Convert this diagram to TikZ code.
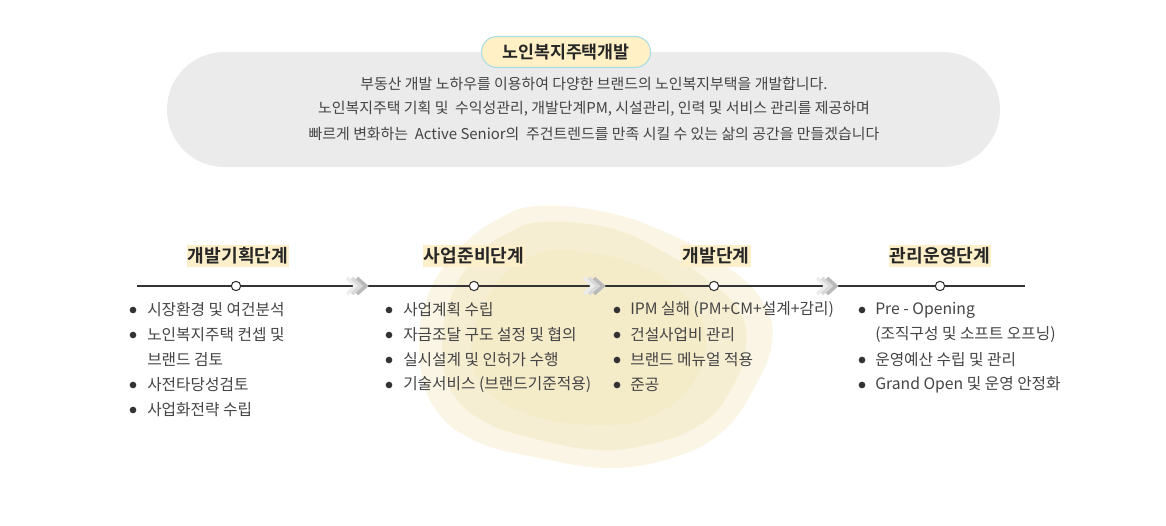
\documentclass[tikz,border=0pt]{standalone}
\usepackage{fontspec}
\setmainfont{Noto Sans CJK KR}
\newfontfamily\krbold{Noto Sans CJK KR Bold}
\definecolor{boxgray}{HTML}{EBEBEB}
\definecolor{pillfill}{HTML}{FFF0C6}
\definecolor{pillline}{HTML}{A9DDE6}
\definecolor{markfill}{HTML}{FDEFC9}
\definecolor{stain}{HTML}{F0E2B2}
\definecolor{txt}{HTML}{444444}
\definecolor{linec}{HTML}{333333}
\tikzset{
  intro/.style={font=\fontsize{11.2}{13}\selectfont, text=txt},
  stage/.style={font=\krbold\fontsize{13.6}{16}\selectfont, text=black!85, fill=markfill,
    inner xsep=1pt, inner ysep=2pt},
  item/.style={font=\fontsize{11.8}{14}\selectfont, text=txt, anchor=west, inner sep=0pt},
  dot/.style={circle, fill=linec, inner sep=0pt, minimum size=5pt},
  knot/.style={circle, draw=linec, fill=white, line width=0.8pt, inner sep=0pt, minimum size=7pt},
}
\begin{document}
\begin{tikzpicture}[x=0.75pt, y=-0.75pt]
\useasboundingbox (0,0) rectangle (1166,525);
% stain behind the middle stages
\fill[stain, opacity=0.35] plot[smooth cycle, tension=0.7] coordinates {
  (540,206) (605,212) (665,232) (720,262) (762,300) (772,342) (752,392) (722,432)
  (675,457) (610,468) (540,458) (478,442) (436,410) (420,360) (426,300) (458,250) (500,218)};
\fill[stain, opacity=0.35] plot[smooth cycle, tension=0.7] coordinates {
  (545,222) (610,228) (660,250) (705,278) (740,312) (745,352) (728,395) (700,425)
  (655,443) (600,450) (540,440) (485,422) (452,392) (442,350) (450,300) (475,258) (510,232)};
\fill[stain, opacity=0.3] plot[smooth cycle, tension=0.7] coordinates {
  (560,250) (630,262) (680,290) (705,330) (695,380) (655,415) (600,425)
  (530,415) (482,385) (472,340) (492,290) (522,262)};
% intro box
\fill[boxgray, rounded corners=43pt] (167,52) rectangle (1000,167);
\node[draw=pillline, fill=pillfill, rounded corners=11.5pt, line width=0.8pt,
  minimum width=169*0.75pt, minimum height=31*0.75pt,
  font=\krbold\fontsize{13}{15}\selectfont, text=black!85] (title) at (566,52) {노인복지주택개발};
\node[intro] (l1) at (594,84)  {부동산 개발 노하우를 이용하여 다양한 브랜드의 노인복지부택을 개발합니다.};
\node[intro] (l2) at (594,109) {노인복지주택 기획 및 \ 수익성관리, 개발단계PM, 시설관리, 인력 및 서비스 관리를 제공하며};
\node[intro] (l3) at (594,134) {빠르게 변화하는 \ Active Senior의 \ 주건트렌드를 만족 시킬 수 있는 삶의 공간을 만들겠습니다};
% timeline
\coordinate (t0) at (137,286);
\coordinate (t1) at (1025,286);
\draw[linec, line width=0.8pt] (t0) -- (t1);
\node[knot] (k1) at (236,286) {};
\node[knot] (k2) at (474,286) {};
\node[knot] (k3) at (714,286) {};
\node[knot] (k4) at (940,286) {};
% chevrons
\foreach \cx in {367,604,837} {
  \draw[gray!15, line width=2.6pt] (\cx-20,278) -- (\cx-11,286) -- (\cx-20,294);
  \draw[gray!30, line width=2.6pt] (\cx-15,278) -- (\cx-6,286) -- (\cx-15,294);
  \draw[gray!55, line width=2.6pt] (\cx-10,278) -- (\cx-1,286) -- (\cx-10,294);
}
% stage titles
\node[stage] (s1) at (238,256) {개발기획단계};
\node[stage] (s2) at (474,256) {사업준비단계};
\node[stage] (s3) at (716,256) {개발단계};
\node[stage] (s4) at (940,256) {관리운영단계};
% items
\foreach \y/\t/\b in {310/시장환경 및 여건분석/1, 335/노인복지주택 컨셉 및/1, 360/브랜드 검토/0,
                      385/사전타당성검토/1, 410/사업화전략 수립/1} {
  \node[item] (a\y) at (147,\y) {\t};
  \ifnum\b=1 \node[dot] at (133,\y) {}; \fi
}
\foreach \y/\t in {310/사업계획 수립, 335/자금조달 구도 설정 및 협의,
                   360/실시설계 및 인허가 수행, 385/기술서비스 (브랜드기준적용)} {
  \node[item] (b\y) at (403,\y) {\t};
  \node[dot] at (389,\y) {};
}
\foreach \y/\t in {310/IPM 실해 (PM+CM+설계+감리), 335/건설사업비 관리,
                   360/브랜드 메뉴얼 적용, 385/준공} {
  \node[item] (c\y) at (630,\y) {\t};
  \node[dot] at (617,\y) {};
}
\foreach \y/\t/\b in {310/Pre - Opening/1, 335/(조직구성 및 소프트 오프닝)/0,
                      360/운영예산 수립 및 관리/1, 385/Grand Open 및 운영 안정화/1} {
  \node[item] (d\y) at (875,\y) {\t};
  \ifnum\b=1 \node[dot] at (862,\y) {}; \fi
}
\end{tikzpicture}
\end{document}
